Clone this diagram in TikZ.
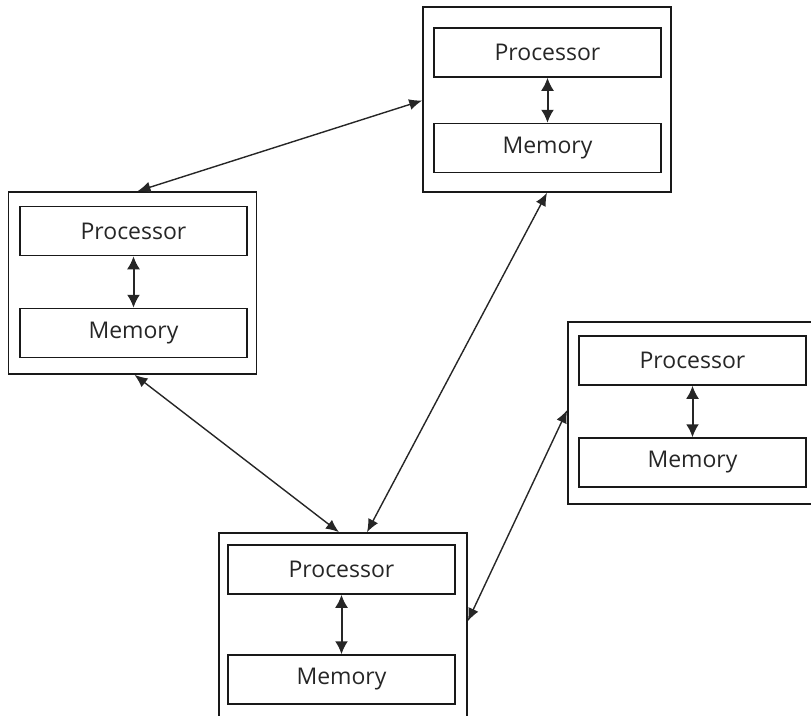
\documentclass[tikz,border=0pt]{standalone}
\usepackage{fontspec}
\setmainfont{Open Sans}
\usetikzlibrary{arrows.meta}
\definecolor{txt}{HTML}{262626}
\tikzset{
  outerbox/.style={draw=black!90, line width=1.6pt, minimum width=248pt, inner sep=0pt, fill=none},
  unit/.style={draw=black!90, line width=1.5pt, minimum width=227pt, minimum height=49pt, inner sep=0pt,
    font=\fontsize{23pt}{28pt}\selectfont, text=txt},
  link/.style={draw=black!85, line width=1.4pt, {Latex[length=13pt,width=11pt]}-{Latex[length=13pt,width=11pt]}},
  inner/.style={draw=black!85, line width=2pt, {Latex[length=13pt,width=13pt]}-{Latex[length=13pt,width=13pt]}}
}
\begin{document}
\begin{tikzpicture}[x=1pt,y=-1pt]
\useasboundingbox (0,0) rectangle (811,715);
% top machine
\node[outerbox, minimum height=185pt] (top) at (547,99.5) {};
\node[unit] (topP) at (547.5,52.5) {Processor};
\node[unit] (topM) at (547.5,148) {Memory};
% left machine
\node[outerbox, minimum height=182pt] (lft) at (132.5,283) {};
\node[unit] (lftP) at (133.5,231) {Processor};
\node[unit] (lftM) at (133.5,333) {Memory};
% right machine
\node[outerbox, minimum height=182pt] (rgt) at (692,413) {};
\node[unit] (rgtP) at (692.5,360.5) {Processor};
\node[unit] (rgtM) at (692.5,462.5) {Memory};
% bottom machine
\node[outerbox, minimum height=186pt] (bot) at (343,626) {};
\node[unit] (botP) at (341.5,569.5) {Processor};
\node[unit] (botM) at (341.5,679.5) {Memory};
% inner links
\draw[inner] (topP.south) -- (topM.north);
\draw[inner] (lftP.south) -- (lftM.north);
\draw[inner] (rgtP.south) -- (rgtM.north);
\draw[inner] (botP.south) -- (botM.north);
% network links
\draw[link] ([yshift=-1pt]top.west) -- ([xshift=5pt]lft.north);
\draw[link] (top.south) -- ([xshift=24pt]bot.north);
\draw[link] ([xshift=2pt]lft.south) -- ([xshift=-4pt]bot.north);
\draw[link] ([yshift=3pt]rgt.west) -- ([yshift=-89pt]bot.north east);
\end{tikzpicture}
\end{document}
